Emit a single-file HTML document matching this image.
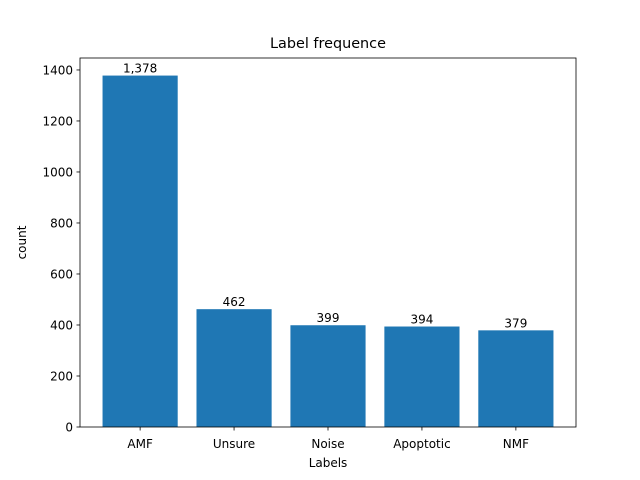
<!DOCTYPE html>
<html><head><meta charset="utf-8"><style>
body{margin:0;background:#fff;}
svg{display:block;font-family:"DejaVu Sans","Liberation Sans",sans-serif;}
</style></head><body>
<svg id="chart" width="640" height="480">
<rect width="640" height="480" fill="#fff"/>
<g id="plot"></g>
<text x="328" y="48" font-size="14.4" text-anchor="middle">Label frequence</text>
<text x="328" y="467" font-size="12" text-anchor="middle">Labels</text>
<text transform="translate(26,242.5) rotate(-90)" font-size="12" text-anchor="middle">count</text>
</svg>
<script>
const categories=["AMF","Unsure","Noise","Apoptotic","NMF"];
const counts=[1378,462,399,394,379];
const yTicks=[0,200,400,600,800,1000,1200,1400];
const L=80,R=576,T=58,B=427;
const ymax=Math.max(...counts)*1.05;
const xmin=-0.64,xmax=categories.length-1+0.64;
const xs=v=>L+(v-xmin)/(xmax-xmin)*(R-L);
const ys=v=>B-v/ymax*(B-T);
const ns="http://www.w3.org/2000/svg";
const g=document.getElementById('plot');
function mk(tag,attrs,text){const e=document.createElementNS(ns,tag);for(const k in attrs)e.setAttribute(k,attrs[k]);if(text!==undefined)e.textContent=text;g.appendChild(e);return e;}
categories.forEach((c,i)=>{
  const x0=xs(i-0.4),x1=xs(i+0.4);
  const r=mk('rect',{x:x0,y:ys(counts[i]),width:x1-x0,height:B-ys(counts[i]),fill:'#1f77b4'});
  
  
  const t=mk('text',{x:xs(i),y:ys(counts[i])-3,'font-size':12,'text-anchor':'middle'},counts[i].toLocaleString('en-US'));
  
  
  mk('line',{x1:xs(i),x2:xs(i),y1:B,y2:B+3.5,stroke:'#000','stroke-width':0.8});
  const xl=mk('text',{x:xs(i),y:B+21,'font-size':12,'text-anchor':'middle'},c);
  
  
});
yTicks.forEach(v=>{
  mk('line',{x1:L-3.5,x2:L,y1:ys(v),y2:ys(v),stroke:'#000','stroke-width':0.8});
  const yl=mk('text',{x:L-7,y:ys(v)+4.5,'font-size':12,'text-anchor':'end'},v);
  
  
});
const f=mk('rect',{x:L,y:T,width:R-L,height:B-T,fill:'none',stroke:'#000','stroke-width':0.8});


</script>
</body></html>
